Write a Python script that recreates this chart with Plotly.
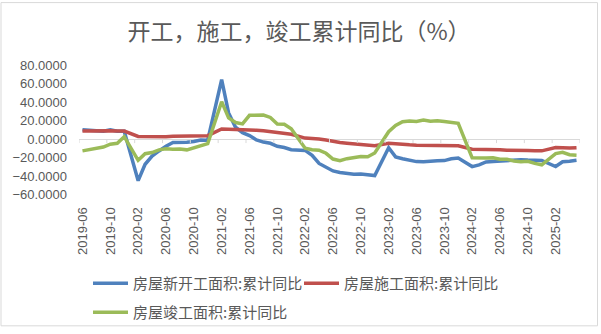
import plotly.graph_objects as go

# Monthly cumulative YoY (%); January is merged into February, so it has no entry
months = [
    "2019-06", "2019-07", "2019-08", "2019-09", "2019-10", "2019-11", "2019-12",
    "2020-02", "2020-03", "2020-04", "2020-05", "2020-06", "2020-07", "2020-08", "2020-09", "2020-10", "2020-11", "2020-12",
    "2021-02", "2021-03", "2021-04", "2021-05", "2021-06", "2021-07", "2021-08", "2021-09", "2021-10", "2021-11", "2021-12",
    "2022-02", "2022-03", "2022-04", "2022-05", "2022-06", "2022-07", "2022-08", "2022-09", "2022-10", "2022-11", "2022-12",
    "2023-02", "2023-03", "2023-04", "2023-05", "2023-06", "2023-07", "2023-08", "2023-09", "2023-10", "2023-11", "2023-12",
    "2024-02", "2024-03", "2024-04", "2024-05", "2024-06", "2024-07", "2024-08", "2024-09", "2024-10", "2024-11", "2024-12",
    "2025-02", "2025-03", "2025-04", "2025-05",
]

new_starts = [
    10.1, 9.5, 8.9, 8.6, 10.0, 8.6, 8.5,
    -44.9, -27.2, -18.4, -12.8, -7.6, -3.6, -3.6, -3.4, -2.6, -1.0, -1.2,
    64.3, 28.2, 12.8, 6.9, 3.8, -0.9, -3.2, -4.5, -7.7, -9.1, -11.4,
    -12.2, -17.5, -26.3, -30.6, -34.4, -36.1, -37.2, -38.0, -37.8, -38.9, -39.4,
    -9.4, -19.2, -21.2, -22.6, -24.3, -24.5, -24.4, -23.4, -23.2, -21.2, -20.4,
    -29.7, -27.8, -24.6, -24.2, -23.7, -23.2, -22.5, -22.2, -22.6, -23.0, -23.0,
    -29.6, -24.4, -23.8, -22.8,
]

under_construction = [
    8.8, 9.0, 8.8, 8.7, 9.0, 8.7, 8.7,
    2.9, 2.6, 2.5, 2.6, 2.6, 3.1, 3.3, 3.1, 3.2, 3.2, 3.7,
    11.0, 11.2, 10.5, 10.1, 10.2, 9.6, 8.9, 7.9, 7.1, 6.1, 5.2,
    1.1, 1.0, 0.0, -1.0, -2.8, -3.7, -4.5, -5.3, -5.7, -6.5, -7.2,
    -4.4, -5.2, -5.6, -6.2, -6.6, -6.8, -7.1, -7.1, -7.3, -7.2, -7.2,
    -11.0, -11.1, -10.8, -11.6, -11.6, -12.1, -12.0, -12.2, -12.4, -12.7, -12.7,
    -9.1, -9.5, -9.7, -9.2,
]

completed = [
    -12.7, -11.3, -10.0, -8.6, -5.5, -4.5, 2.6,
    -22.9, -15.8, -14.5, -11.6, -10.5, -11.0, -10.8, -11.6, -9.2, -7.3, -4.9,
    40.4, 22.9, 17.9, 16.4, 25.7, 25.7, 26.0, 23.4, 16.3, 16.0, 11.2,
    -9.8, -11.5, -11.9, -15.3, -21.5, -23.3, -21.1, -19.9, -18.7, -19.0, -15.0,
    8.0, 14.7, 18.8, 19.6, 19.0, 20.5, 19.2, 19.8, 19.0, 17.9, 17.0,
    -20.2, -20.7, -20.4, -20.1, -21.8, -21.8, -23.6, -24.4, -23.9, -26.2, -27.7,
    -15.6, -14.3, -16.9, -17.3,
]

tick_labels = [
    "2019-06", "2019-10", "2020-02", "2020-06", "2020-10", "2021-02", "2021-06",
    "2021-10", "2022-02", "2022-06", "2022-10", "2023-02", "2023-06", "2023-10",
    "2024-02", "2024-06", "2024-10", "2025-02",
]

series_names = ["房屋新开工面积:累计同比", "房屋施工面积:累计同比", "房屋竣工面积:累计同比"]
colors = ["#4F81BD", "#C0504D", "#9BBB59"]
y_ticks = [-60, -40, -20, 0, 20, 40, 60, 80]

W, H = 601, 334
L, R, T, B = 79, 21, 65, 136
PW, PH = W - L - R, H - T - B
GREY = "#595959"
CJK = "Noto Sans CJK SC"
NUM = "Liberation Sans"


def month_pos(label):
    y, m = map(int, label.split("-"))
    return (y - 2019) * 12 + (m - 6)


x = [month_pos(m) for m in months]
n_slots = month_pos("2025-06")

fig = go.Figure()
for name, vals, col, lg in zip(series_names, [new_starts, under_construction, completed],
                                colors, ["legend", "legend", "legend2"]):
    fig.add_trace(go.Scatter(
        x=x, y=vals, mode="lines", name=name, legend=lg,
        line=dict(color=col, width=3.5),
    ))

shapes = []
# category-boundary tick marks hanging from the zero line
for b in range(0, n_slots + 1, 4):
    shapes.append(dict(
        type="line", xref="x", yref="y", ysizemode="pixel", yanchor=0,
        x0=b - 0.5, x1=b - 0.5, y0=0, y1=-4,
        line=dict(color="#d9d9d9", width=1),
    ))


def px_x(p):
    return (p - L) / PW


def px_y(p):
    return (H - B - p) / PH


# outer chart frame
shapes.append(dict(
    type="rect", xref="paper", yref="paper", layer="below",
    x0=px_x(1), x1=px_x(597.5), y0=px_y(332.5), y1=px_y(1),
    line=dict(color="#d9d9d9", width=1), fillcolor="rgba(0,0,0,0)",
))

legend_common = dict(
    orientation="h", xref="container", yref="container",
    xanchor="left", yanchor="top", bgcolor="rgba(0,0,0,0)",
    font=dict(family=CJK, size=15, color=GREY), itemwidth=35,
    traceorder="normal",
)

fig.update_layout(
    width=W, height=H,
    margin=dict(l=L, r=R, t=T, b=B),
    paper_bgcolor="white", plot_bgcolor="white",
    title=dict(
        text="开工，施工，竣工累计同比（%）",
        font=dict(family=CJK, size=23, color=GREY),
        xref="container", yref="container", x=299 / W, y=1 - 32 / H,
        xanchor="center", yanchor="middle",
    ),
    xaxis=dict(
        range=[-0.5, n_slots - 0.5],
        tickvals=[month_pos(t) for t in tick_labels], ticktext=tick_labels,
        tickangle=-90, showgrid=False, zeroline=False, showline=False,
        ticks="", ticklabelstandoff=9,
        tickfont=dict(family=NUM, size=13, color=GREY),
    ),
    yaxis=dict(
        range=[-60, 80], tickvals=y_ticks, tickformat=".4f",
        showgrid=False, zeroline=True, zerolinecolor="#d9d9d9", zerolinewidth=1,
        showline=False, ticks="", ticklabelstandoff=11,
        tickfont=dict(family=NUM, size=13, color=GREY),
    ),
    legend=dict(legend_common, x=88 / W, y=1 - 267 / H, entrywidth=161),
    legend2=dict(legend_common, x=88 / W, y=1 - 296 / H),
    shapes=shapes,
    showlegend=True,
)

fig.write_html("out.html")
